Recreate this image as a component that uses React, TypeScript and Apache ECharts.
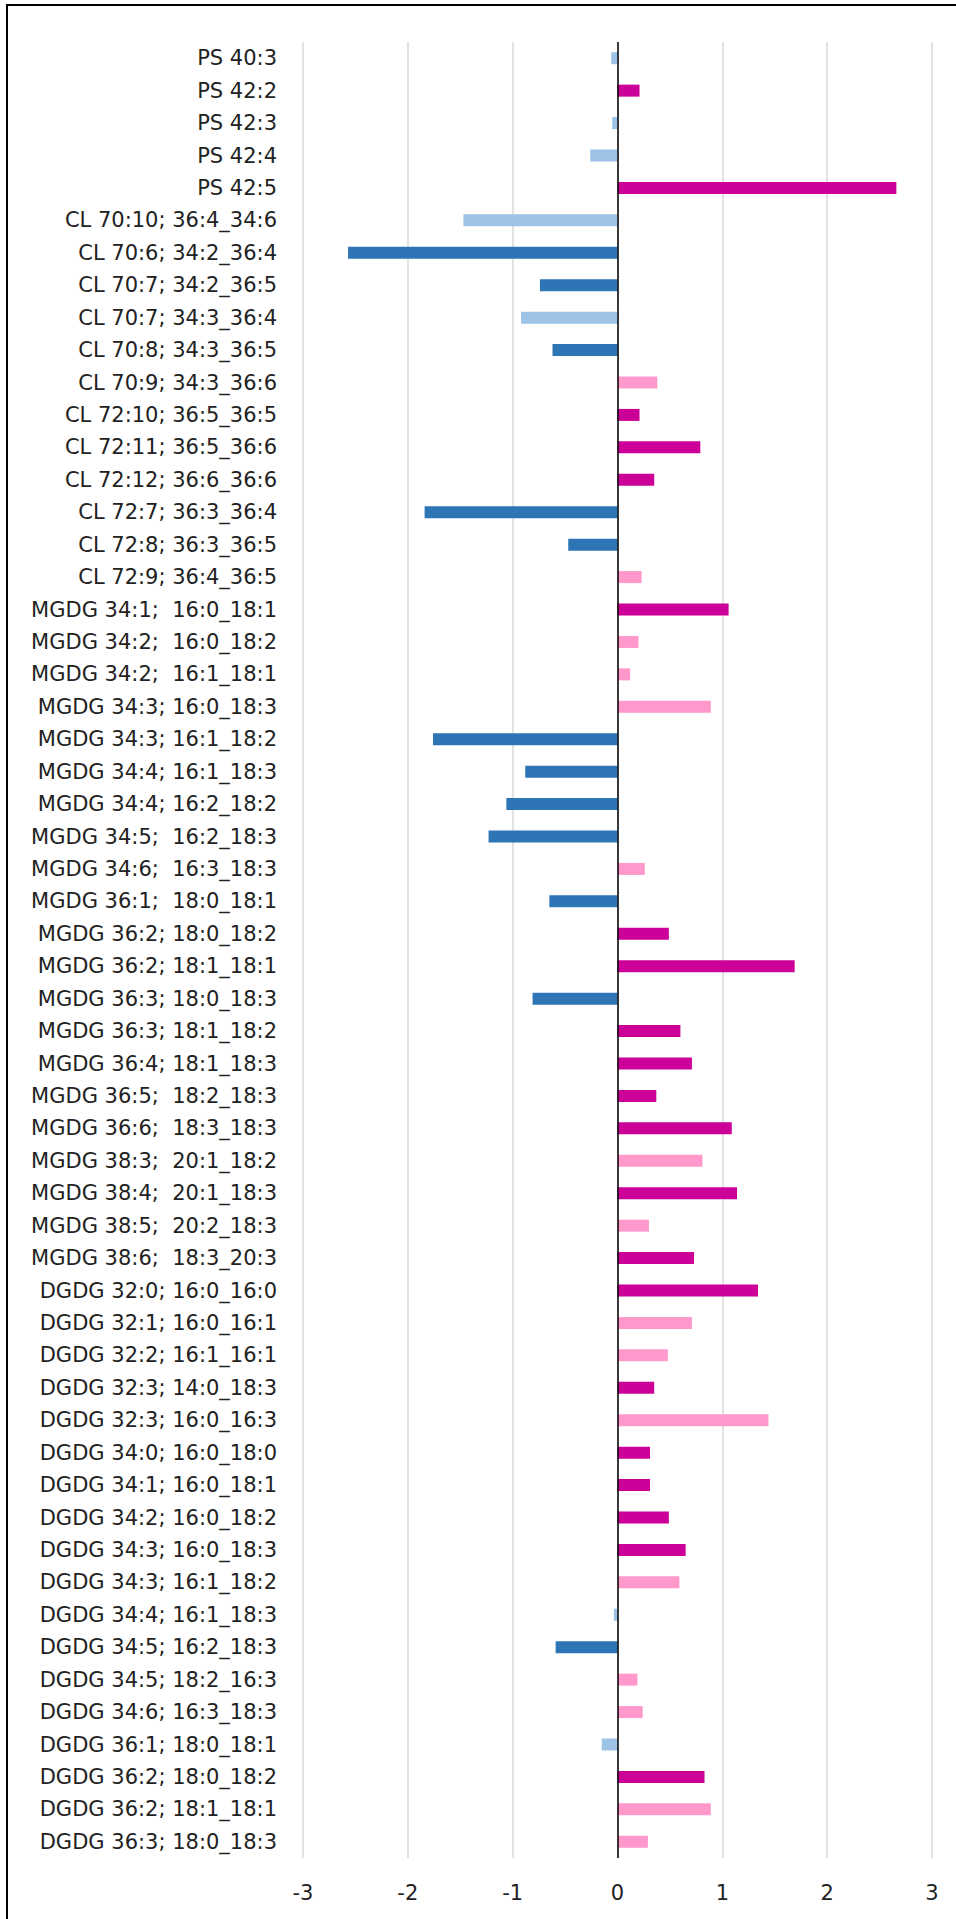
import React, { useEffect, useRef } from "react";
import * as echarts from "echarts";

const categories: string[] = [
  "PS 40:3",
  "PS 42:2",
  "PS 42:3",
  "PS 42:4",
  "PS 42:5",
  "CL 70:10; 36:4_34:6",
  "CL 70:6; 34:2_36:4",
  "CL 70:7; 34:2_36:5",
  "CL 70:7; 34:3_36:4",
  "CL 70:8; 34:3_36:5",
  "CL 70:9; 34:3_36:6",
  "CL 72:10; 36:5_36:5",
  "CL 72:11; 36:5_36:6",
  "CL 72:12; 36:6_36:6",
  "CL 72:7; 36:3_36:4",
  "CL 72:8; 36:3_36:5",
  "CL 72:9; 36:4_36:5",
  "MGDG 34:1;  16:0_18:1",
  "MGDG 34:2;  16:0_18:2",
  "MGDG 34:2;  16:1_18:1",
  "MGDG 34:3; 16:0_18:3",
  "MGDG 34:3; 16:1_18:2",
  "MGDG 34:4; 16:1_18:3",
  "MGDG 34:4; 16:2_18:2",
  "MGDG 34:5;  16:2_18:3",
  "MGDG 34:6;  16:3_18:3",
  "MGDG 36:1;  18:0_18:1",
  "MGDG 36:2; 18:0_18:2",
  "MGDG 36:2; 18:1_18:1",
  "MGDG 36:3; 18:0_18:3",
  "MGDG 36:3; 18:1_18:2",
  "MGDG 36:4; 18:1_18:3",
  "MGDG 36:5;  18:2_18:3",
  "MGDG 36:6;  18:3_18:3",
  "MGDG 38:3;  20:1_18:2",
  "MGDG 38:4;  20:1_18:3",
  "MGDG 38:5;  20:2_18:3",
  "MGDG 38:6;  18:3_20:3",
  "DGDG 32:0; 16:0_16:0",
  "DGDG 32:1; 16:0_16:1",
  "DGDG 32:2; 16:1_16:1",
  "DGDG 32:3; 14:0_18:3",
  "DGDG 32:3; 16:0_16:3",
  "DGDG 34:0; 16:0_18:0",
  "DGDG 34:1; 16:0_18:1",
  "DGDG 34:2; 16:0_18:2",
  "DGDG 34:3; 16:0_18:3",
  "DGDG 34:3; 16:1_18:2",
  "DGDG 34:4; 16:1_18:3",
  "DGDG 34:5; 16:2_18:3",
  "DGDG 34:5; 18:2_16:3",
  "DGDG 34:6; 16:3_18:3",
  "DGDG 36:1; 18:0_18:1",
  "DGDG 36:2; 18:0_18:2",
  "DGDG 36:2; 18:1_18:1",
  "DGDG 36:3; 18:0_18:3",
];

const values: number[] = [
  -0.06, 0.21, -0.05, -0.26, 2.66,
  -1.47, -2.57, -0.74, -0.92, -0.62, 0.38,
  0.21, 0.79, 0.35, -1.84, -0.47, 0.23,
  1.06, 0.2, 0.12, 0.89, -1.76, -0.88, -1.06, -1.23, 0.26,
  -0.65, 0.49, 1.69, -0.81, 0.6, 0.71, 0.37, 1.09,
  0.81, 1.14, 0.3, 0.73,
  1.34, 0.71, 0.48, 0.35, 1.44,
  0.31, 0.31, 0.49, 0.65, 0.59, -0.035, -0.59, 0.19, 0.24,
  -0.15, 0.83, 0.89, 0.29,
];

// 1 = significant (dark colour), 0 = not significant (light colour)
const significant: number[] = [
  0, 1, 0, 0, 1,
  0, 1, 1, 0, 1, 0,
  1, 1, 1, 1, 1, 0,
  1, 0, 0, 0, 1, 1, 1, 1, 0,
  1, 1, 1, 1, 1, 1, 1, 1,
  0, 1, 0, 1,
  1, 0, 0, 1, 0,
  1, 1, 1, 1, 0, 0, 1, 0, 0,
  0, 1, 0, 0,
];

const xTicks: number[] = [-3, -2, -1, 0, 1, 2, 3];

const COLORS = {
  negSig: "#2E75B6",
  negNs: "#9DC3E6",
  posSig: "#CC0099",
  posNs: "#FF99CC",
};

const FONT = "DejaVu Sans";
const TEXT_COLOR = "#222222";

export default function App() {
  const ref = useRef<HTMLDivElement>(null);

  useEffect(() => {
    if (!ref.current) return;
    const chart = echarts.init(ref.current, undefined, { renderer: "svg" });

    const data = values.map((v, i) => {
      const sig = significant[i] === 1;
      const color = v < 0 ? (sig ? COLORS.negSig : COLORS.negNs) : sig ? COLORS.posSig : COLORS.posNs;
      return { value: v, itemStyle: { color } };
    });

    chart.setOption({
      animation: false,
      backgroundColor: "#ffffff",
      grid: { left: 303, right: 24, top: 42, bottom: 61, containLabel: false },
      xAxis: {
        type: "value",
        min: xTicks[0],
        max: xTicks[xTicks.length - 1],
        interval: 1,
        axisLine: { show: false },
        axisTick: { show: false },
        splitLine: { show: true, lineStyle: { color: "#D9D9D9", width: 1.5 } },
        axisLabel: {
          fontFamily: FONT,
          fontSize: 21,
          color: TEXT_COLOR,
          margin: 24,
        },
      },
      yAxis: {
        type: "category",
        inverse: true,
        data: categories,
        axisLine: { show: false },
        axisTick: { show: false },
        splitLine: { show: false },
        axisLabel: {
          fontFamily: FONT,
          fontSize: 21,
          color: TEXT_COLOR,
          margin: 26,
          interval: 0,
        },
      },
      series: [
        {
          type: "bar",
          data,
          barWidth: 12,
          markLine: {
            silent: true,
            symbol: "none",
            label: { show: false },
            lineStyle: { color: "#000000", width: 1.5, type: "solid" },
            data: [{ xAxis: 0 }],
          },
        },
      ],
    });

    return () => chart.dispose();
  }, []);

  return (
    <div
      style={{
        position: "absolute",
        left: 0,
        top: 0,
        width: 956,
        height: 1919,
        overflow: "hidden",
        background: "#ffffff",
      }}
    >
      <div ref={ref} style={{ position: "absolute", left: 0, top: 0, width: 956, height: 1919 }} />
      <div
        style={{
          position: "absolute",
          left: 6,
          top: 4,
          width: 2000,
          height: 2000,
          borderLeft: "2px solid #000",
          borderTop: "2px solid #000",
          pointerEvents: "none",
        }}
      />
    </div>
  );
}
